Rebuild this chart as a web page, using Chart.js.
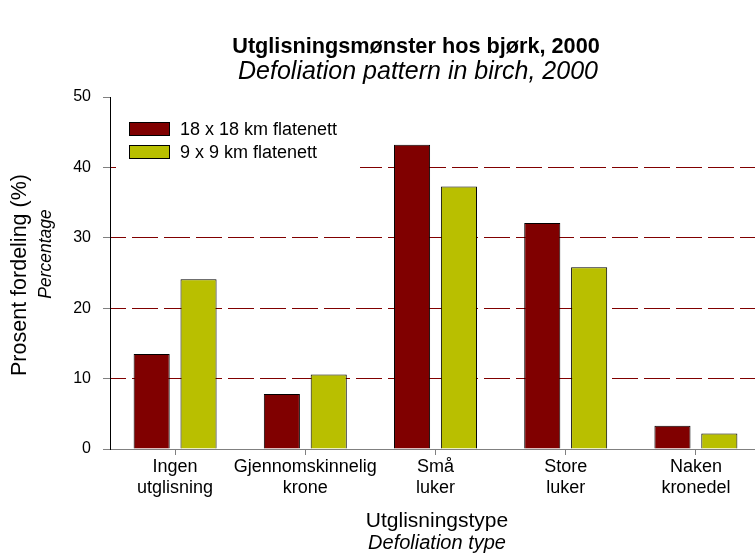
<!DOCTYPE html>
<html>
<head>
<meta charset="utf-8">
<script src="https://cdn.jsdelivr.net/npm/chart.js@4/dist/chart.umd.min.js"></script>
<style>
  html, body { margin: 0; padding: 0; background: #fff; overflow: hidden; }
  #wrap { width: 755px; height: 554px; overflow: hidden; }
  canvas { display: block; }
</style>
</head>
<body>
<div id="wrap"><canvas id="c" width="762" height="554"></canvas></div>
<script>
// ---- data ----
const categories = [
  ['Ingen', 'utglisning'],
  ['Gjennomskinnelig', 'krone'],
  ['Små', 'luker'],
  ['Store', 'luker'],
  ['Naken', 'kronedel']
];
const seriesNames = ['18 x 18 km flatenett', '9 x 9 km flatenett'];
const values18 = [13.5, 7.8, 43.2, 32.1, 3.3];
const values9 = [24.1, 10.6, 37.3, 25.8, 2.2];
const yTickValues = [0, 10, 20, 30, 40, 50];
const titleMain = 'Utglisningsmønster hos bjørk, 2000';
const titleSub = 'Defoliation pattern in birch, 2000';
const yTitle = ['Prosent fordeling (%)', 'Percentage'];
const xTitle = ['Utglisningstype', 'Defoliation type'];

// ---- styles ----
const FONT = '"Liberation Sans", Arial, sans-serif';
const colors = ['#800000', '#B9BF00'];
const GRID = '#800000';
const gridColors = yTickValues.map((v, i) => (i === 0 || i === yTickValues.length - 1) ? 'rgba(255,255,255,0)' : GRID);

const overlay = {
  id: 'overlay',
  beforeDatasetsDraw(chart) {
    const ctx = chart.ctx;
    ctx.save();
    ctx.fillStyle = '#fff';
    ctx.fillRect(116, 104, 244, 70);
    const rows = [129, 152];
    seriesNames.forEach((name, i) => {
      ctx.fillStyle = colors[i];
      ctx.fillRect(129, rows[i] - 7, 41, 14);
      ctx.strokeStyle = '#000';
      ctx.lineWidth = 1;
      ctx.setLineDash([]);
      ctx.strokeRect(129.5, rows[i] - 6.5, 40, 13);
      ctx.fillStyle = '#000';
      ctx.font = '18px ' + FONT;
      ctx.textAlign = 'left';
      ctx.textBaseline = 'middle';
      ctx.fillText(name, 180, rows[i] + 1);
    });
    ctx.restore();
  },
  afterDraw(chart) {
    const ctx = chart.ctx;
    ctx.save();
    ctx.fillStyle = '#000';
    ctx.textAlign = 'center';
    ctx.textBaseline = 'middle';
    ctx.font = 'bold 21.7px ' + FONT;
    ctx.fillText(titleMain, 416, 47);
    ctx.font = 'italic 25px ' + FONT;
    ctx.fillText(titleSub, 418, 72);
    ctx.font = '21px ' + FONT;
    ctx.fillText(xTitle[0], 437, 521);
    ctx.font = 'italic 20px ' + FONT;
    ctx.fillText(xTitle[1], 437, 543);
    ctx.restore();

    ctx.save();
    ctx.fillStyle = '#000';
    ctx.textAlign = 'center';
    ctx.textBaseline = 'middle';
    ctx.translate(20, 275);
    ctx.rotate(-Math.PI / 2);
    ctx.font = '21.5px ' + FONT;
    ctx.fillText(yTitle[0], 0, 0);
    ctx.restore();

    ctx.save();
    ctx.fillStyle = '#000';
    ctx.textAlign = 'center';
    ctx.textBaseline = 'middle';
    ctx.translate(46, 254);
    ctx.rotate(-Math.PI / 2);
    ctx.font = 'italic 17.5px ' + FONT;
    ctx.fillText(yTitle[1], 0, 0);
    ctx.restore();
  }
};

new Chart(document.getElementById('c'), {
  type: 'bar',
  data: {
    labels: categories,
    datasets: [
      { label: seriesNames[0], data: values18, backgroundColor: colors[0], borderColor: '#000', borderWidth: 1 },
      { label: seriesNames[1], data: values9, backgroundColor: colors[1], borderColor: '#000', borderWidth: 1 }
    ]
  },
  options: {
    responsive: false,
    animation: false,
    devicePixelRatio: 1,
    layout: { padding: { top: 97, right: 1, bottom: 0, left: 0 } },
    datasets: { bar: { categoryPercentage: 0.72, barPercentage: 0.77 } },
    plugins: { legend: { display: false }, title: { display: false }, tooltip: { enabled: false } },
    scales: {
      x: {
        afterFit(s) { s.height = 105; },
        grid: { display: true, drawOnChartArea: false, offset: false, tickLength: 6, tickColor: '#808080', color: '#808080' },
        border: { display: true, color: '#808080', width: 1 },
        ticks: { color: '#000', font: { family: FONT, size: 18 }, padding: 1, maxRotation: 0, autoSkip: false }
      },
      y: {
        min: yTickValues[0],
        max: yTickValues[yTickValues.length - 1],
        afterFit(s) { s.width = 110; },
        grid: {
          color: gridColors,
          tickColor: '#808080',
          tickLength: 7,
          lineWidth: 1
        },
        border: { display: true, color: '#000', width: 1, dash: [26, 6], dashOffset: 11 },
        ticks: { color: '#000', font: { family: FONT, size: 16 }, padding: 12, stepSize: 10 }
      }
    }
  },
  plugins: [overlay]
});
</script>
</body>
</html>
